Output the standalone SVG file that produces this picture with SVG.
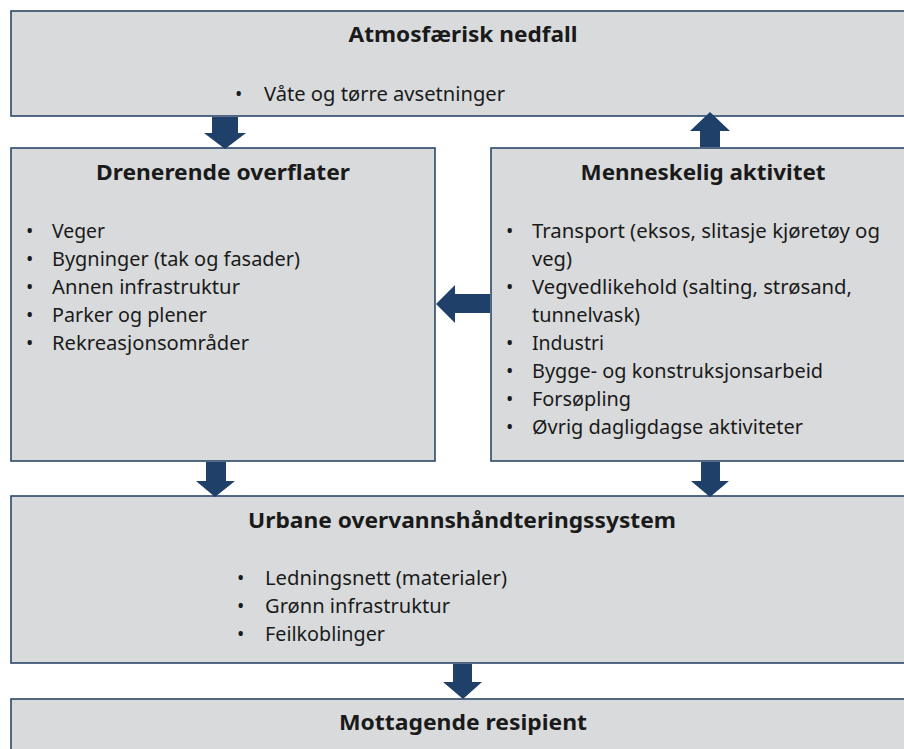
<svg xmlns="http://www.w3.org/2000/svg" width="904" height="749" viewBox="0 0 904 749">
<style>
.box{fill:#d9dadc;stroke:#2c4668;stroke-width:1.6}
.arr{fill:#1f4068}
.t{font-family:"Noto Sans","Liberation Sans",Arial,sans-serif;font-weight:bold;font-size:22px;fill:#1a1a1a;text-anchor:middle}
.b{font-family:"Noto Sans","Liberation Sans",Arial,sans-serif;font-size:19.5px;fill:#1a1a1a}
</style>
<rect width="904" height="749" fill="#ffffff"/>
<g id="atmosfaerisk">
<rect class="box" x="11" y="11" width="900" height="105"/>
<text class="t" x="463" y="42" textLength="229" lengthAdjust="spacingAndGlyphs">Atmosfærisk nedfall</text>
<text class="b" x="235" y="101">•</text><text class="b" x="264" y="101" textLength="241" lengthAdjust="spacingAndGlyphs">Våte og tørre avsetninger</text>
</g>
<g id="drenerende">
<rect class="box" x="11" y="148" width="424" height="313"/>
<text class="t" x="223" y="180" textLength="254" lengthAdjust="spacingAndGlyphs">Drenerende overflater</text>
<g class="b">
<text x="26" y="238">•</text><text x="52" y="238" textLength="53" lengthAdjust="spacingAndGlyphs">Veger</text>
<text x="26" y="266">•</text><text x="52" y="266" textLength="248" lengthAdjust="spacingAndGlyphs">Bygninger (tak og fasader)</text>
<text x="26" y="294">•</text><text x="52" y="294" textLength="188" lengthAdjust="spacingAndGlyphs">Annen infrastruktur</text>
<text x="26" y="322">•</text><text x="52" y="322" textLength="155" lengthAdjust="spacingAndGlyphs">Parker og plener</text>
<text x="26" y="350">•</text><text x="52" y="350" textLength="197" lengthAdjust="spacingAndGlyphs">Rekreasjonsområder</text>
</g>
</g>
<g id="menneskelig">
<rect class="box" x="491" y="148" width="420" height="313"/>
<text class="t" x="703" y="180" textLength="245" lengthAdjust="spacingAndGlyphs">Menneskelig aktivitet</text>
<g class="b">
<text x="506" y="238">•</text><text x="532" y="238" textLength="348" lengthAdjust="spacingAndGlyphs">Transport (eksos, slitasje kjøretøy og</text>
<text x="532" y="266" textLength="40" lengthAdjust="spacingAndGlyphs">veg)</text>
<text x="506" y="294">•</text><text x="532" y="294" textLength="320" lengthAdjust="spacingAndGlyphs">Vegvedlikehold (salting, strøsand,</text>
<text x="532" y="322" textLength="108" lengthAdjust="spacingAndGlyphs">tunnelvask)</text>
<text x="506" y="350">•</text><text x="532" y="350" textLength="72" lengthAdjust="spacingAndGlyphs">Industri</text>
<text x="506" y="378">•</text><text x="532" y="378" textLength="291" lengthAdjust="spacingAndGlyphs">Bygge- og konstruksjonsarbeid</text>
<text x="506" y="406">•</text><text x="532" y="406" textLength="99" lengthAdjust="spacingAndGlyphs">Forsøpling</text>
<text x="506" y="434">•</text><text x="532" y="434" textLength="271" lengthAdjust="spacingAndGlyphs">Øvrig dagligdagse aktiviteter</text>
</g>
</g>
<g id="urbane">
<rect class="box" x="11" y="496" width="900" height="167"/>
<text class="t" x="462" y="528" textLength="428" lengthAdjust="spacingAndGlyphs">Urbane overvannshåndteringssystem</text>
<g class="b">
<text x="237" y="585">•</text><text x="265" y="585" textLength="242" lengthAdjust="spacingAndGlyphs">Ledningsnett (materialer)</text>
<text x="237" y="613">•</text><text x="265" y="613" textLength="185" lengthAdjust="spacingAndGlyphs">Grønn infrastruktur</text>
<text x="237" y="641">•</text><text x="265" y="641" textLength="120" lengthAdjust="spacingAndGlyphs">Feilkoblinger</text>
</g>
</g>
<g id="mottagende">
<rect class="box" x="11" y="699" width="900" height="60"/>
<text class="t" x="463" y="730" textLength="248" lengthAdjust="spacingAndGlyphs">Mottagende resipient</text>
</g>
<g id="connectors">
<polygon class="arr" points="212,117 238,117 238,133 246,133 225,149 204,133 212,133"/>
<polygon class="arr" points="700,147 720,147 720,131 730,131 710,112 690,131 700,131"/>
<polygon class="arr" points="490,294 455,294 455,285 436,304 455,323 455,313 490,313"/>
<polygon class="arr" points="206,462 226,462 226,481 235,481 215,497 196,481 206,481"/>
<polygon class="arr" points="701,462 720,462 720,481 729,481 710,497 691,481 701,481"/>
<polygon class="arr" points="453,664 472,664 472,682 482,682 463,699 443,682 453,682"/>
</g>
</svg>
